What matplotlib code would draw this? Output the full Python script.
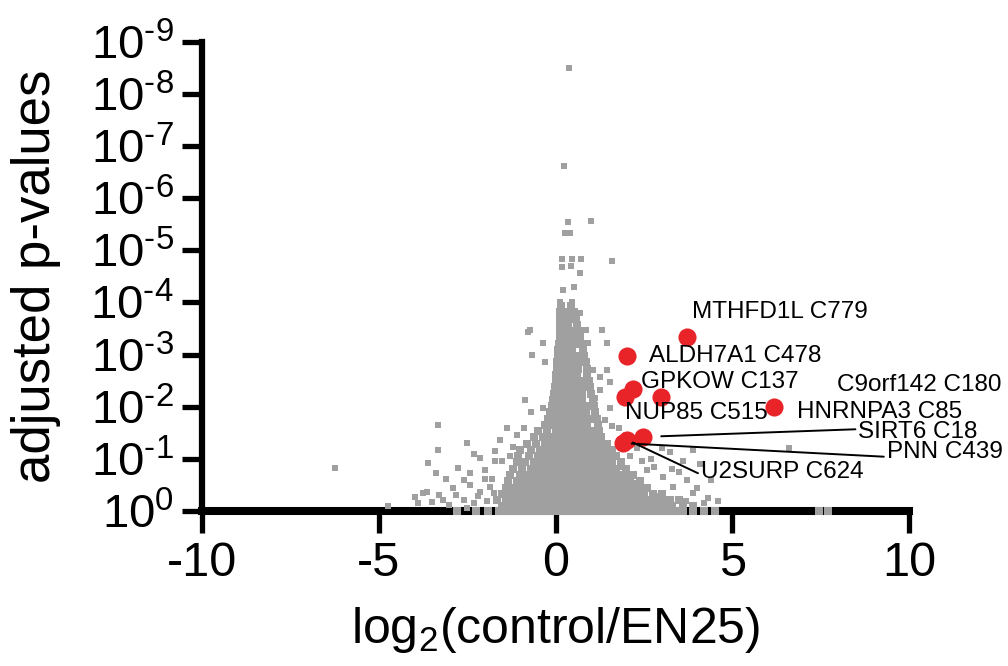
import matplotlib
matplotlib.use("Agg")
import matplotlib.pyplot as plt
import numpy as np

plt.rcParams['font.family'] = ['Liberation Sans', 'DejaVu Sans']
plt.rcParams['mathtext.fontset'] = 'custom'
plt.rcParams['mathtext.rm'] = 'Liberation Sans'
plt.rcParams['mathtext.it'] = 'Liberation Sans:italic'
plt.rcParams['axes.unicode_minus'] = False

# dense core of the volcano: -log10(adjusted p) level -> log2 ratios
core_levels = [0.0, 0.1, 0.21, 0.33, 0.45, 0.57, 0.69, 0.81, 0.93, 1.05, 1.17,
               1.29, 1.41, 1.53, 1.65, 1.77, 1.89, 2.01, 2.13, 2.25, 2.37, 2.49,
               2.61, 2.73, 2.85, 2.97, 3.09, 3.21, 3.33, 3.45, 3.57, 3.69, 3.81, 3.93]
core_x = [
    [-2.8, -2.25, -1.9, -1.6, -1.4, -1.2, -1.0, -0.8, -0.6, -0.4, -0.2, 0.0, 0.2, 0.4,
     0.6, 0.8, 1.0, 1.2, 1.4, 1.6, 1.8, 2.0, 2.2, 2.4, 2.6, 2.8, 3.0, 3.2, 3.4, 3.6,
     3.9, 4.2, 4.5, 7.45, 7.7],
    [-1.5, -1.3, -1.1, -0.9, -0.7, -0.5, -0.3, -0.1, 0.1, 0.3, 0.5, 0.7, 0.9, 1.1, 1.3,
     1.5, 1.7, 1.9, 2.1, 2.3, 2.5, 2.7, 2.9, 3.1, 3.3, 3.6, 3.9],
    [-1.65, -1.4, -1.2, -1.0, -0.8, -0.6, -0.4, -0.2, 0.0, 0.2, 0.4, 0.6, 0.8, 1.0, 1.2,
     1.4, 1.6, 1.8, 2.0, 2.2, 2.4, 2.6, 2.8, 3.0, 3.25, 3.5],
    [-1.5, -1.3, -1.1, -0.9, -0.7, -0.5, -0.3, -0.1, 0.1, 0.3, 0.5, 0.7, 0.9, 1.1, 1.3,
     1.5, 1.7, 1.9, 2.1, 2.3, 2.5, 2.75, 3.0],
    [-1.4, -1.2, -1.0, -0.8, -0.6, -0.4, -0.2, 0.0, 0.2, 0.4, 0.6, 0.8, 1.0, 1.2, 1.4,
     1.6, 1.8, 2.0, 2.2, 2.4, 2.6],
    [-1.35, -1.1, -0.9, -0.7, -0.5, -0.3, -0.1, 0.1, 0.3, 0.5, 0.7, 0.9, 1.1, 1.3, 1.5,
     1.7, 1.9, 2.1, 2.4],
    [-1.3, -1.0, -0.8, -0.6, -0.4, -0.2, 0.0, 0.2, 0.4, 0.6, 0.8, 1.0, 1.2, 1.4, 1.6,
     1.8, 2.0, 2.2],
    [-1.2, -0.95, -0.7, -0.5, -0.3, -0.1, 0.1, 0.3, 0.5, 0.7, 0.9, 1.1, 1.3, 1.5, 1.7, 2.0],
    [-1.1, -0.85, -0.6, -0.4, -0.2, 0.0, 0.2, 0.4, 0.6, 0.8, 1.0, 1.2, 1.4, 1.6, 1.85],
    [-1.05, -0.75, -0.5, -0.3, -0.1, 0.1, 0.3, 0.5, 0.7, 0.9, 1.1, 1.3, 1.5, 1.7],
    [-1.0, -0.7, -0.45, -0.2, 0.0, 0.2, 0.4, 0.6, 0.8, 1.0, 1.2, 1.4, 1.6],
    [-0.8, -0.55, -0.3, -0.1, 0.1, 0.3, 0.5, 0.7, 0.9, 1.1, 1.3, 1.45],
    [-0.6, -0.35, -0.15, 0.05, 0.25, 0.45, 0.65, 0.85, 1.05, 1.3],
    [-0.5, -0.25, 0.0, 0.2, 0.4, 0.6, 0.8, 1.0, 1.23],
    [-0.3, -0.1, 0.1, 0.3, 0.5, 0.7, 0.9, 1.2],
    [-0.2, 0.0, 0.2, 0.4, 0.6, 0.8, 1.0, 1.17],
    [-0.15, 0.05, 0.25, 0.45, 0.65, 0.85, 1.12],
    [-0.1, 0.1, 0.3, 0.5, 0.7, 0.9, 1.08],
    [-0.07, 0.15, 0.35, 0.55, 0.75, 1.05],
    [-0.05, 0.15, 0.35, 0.55, 0.75, 1.0],
    [-0.02, 0.2, 0.4, 0.6, 0.8, 0.98],
    [0.0, 0.2, 0.4, 0.6, 0.8, 0.95],
    [0.02, 0.22, 0.42, 0.62, 0.9],
    [0.04, 0.24, 0.44, 0.64, 0.88],
    [0.05, 0.25, 0.45, 0.65, 0.85],
    [0.06, 0.26, 0.46, 0.66, 0.8],
    [0.07, 0.27, 0.47, 0.78],
    [0.1, 0.3, 0.5, 0.72],
    [0.12, 0.32, 0.52, 0.7],
    [0.13, 0.33, 0.53, 0.66],
    [0.13, 0.35, 0.62],
    [0.14, 0.36, 0.58],
    [0.14, 0.34, 0.52],
    [0.15, 0.45],
]

# scattered grey peptides outside the core
spread_x = [-6.24, -4.74, -3.97, -3.64, -3.49, -3.18, -3.32, -3.32, -3.6, -3.38,
            -2.81, -2.51, -2.42, -2.42, -2.14, -2.14, -1.85, -1.57, -1.38, -1.2,
            -2.76, -3.75, -2.0, -1.7,
            -3.9, -3.3, -3.0, -2.6, -2.3, -2.9, -2.6, -2.2, -1.95, -1.8, -2.0,
            -1.75, -3.1, -2.3, -1.7, -2.5, -0.9, -0.7, -1.1, -1.5, -1.3,
            -0.78, -0.35, -0.66, -0.3, 0.69, 1.31, 0.92, 1.46, 1.06, 1.46, 1.54,
            1.26, -0.86, -0.35, 1.12, 1.54, 1.26, -0.72, 0.86,
            0.38, 0.24, 0.35, 1.0, 0.28, 0.4, 0.18, 0.46, 0.72, 1.6, 0.18, 0.44,
            0.69, 0.21, 0.52, 0.13, 0.47, 0.27, 0.69,
            1.45, 1.82, 1.74, 2.19, 2.59, 3.04, 3.33, 3.72, 3.9, 3.24, 3.9,
            1.4, 1.6, 2.1, 2.45, 2.8, 2.0, 4.3, 6.6, 2.9, 3.5,
            3.7, 4.0, 4.2, 4.6, 3.3, 3.6, 2.7, 2.3, 2.0, 1.8, 4.4, 3.0, 2.6, 4.1]
spread_nlp = [0.82, 0.10, 0.27, 0.36, 0.17, 0.21, 1.65, 1.17, 0.92, 0.73,
              0.31, 1.30, 0.73, 0.50, 1.01, 0.37, 0.46, 1.36, 1.59, 1.23,
              0.82, 0.35, 0.62, 0.95,
              0.15, 0.30, 0.12, 0.22, 0.15, 0.45, 0.60, 0.28, 0.20, 0.62, 0.78,
              0.35, 0.62, 1.10, 1.15, 0.05, 1.60, 1.90, 1.45, 0.95, 1.05,
              3.43, 3.22, 2.99, 2.85, 3.43, 3.47, 3.22, 3.22, 2.70, 2.70, 2.47,
              2.57, 2.13, 1.97, 2.16, 1.97, 2.32, 3.47, 3.47,
              8.49, 6.61, 5.54, 5.56, 5.32, 5.32, 4.83, 4.83, 4.83, 4.79, 4.67, 4.69,
              4.56, 4.23, 4.29, 4.00, 4.00, 3.79, 3.79,
              1.03, 0.84, 0.59, 0.54, 0.79, 0.65, 0.46, 0.59, 0.34, 1.13, 1.17,
              1.75, 1.62, 1.05, 0.95, 0.85, 1.25, 0.25, 1.20, 0.28, 0.75,
              0.20, 0.45, 0.15, 0.20, 0.80, 0.95, 1.00, 1.20, 1.45, 1.60, 0.60, 1.20, 0.42, 0.90]

# highlighted cysteines
hit_names = ["MTHFD1L C779", "ALDH7A1 C478", "GPKOW C137", "NUP85 C515",
             "C9orf142 C180", "HNRNPA3 C85", "SIRT6 C18", "PNN C439", "U2SURP C624"]
hit_x = [3.73, 2.03, 2.18, 1.97, 2.98, 6.18, 2.48, 1.92, 2.01]
hit_nlp = [3.34, 2.98, 2.33, 2.19, 2.19, 1.99, 1.42, 1.30, 1.37]

# label offsets (points), leader line (relpos y, shrink at point)
label_off = [(3.2, 17.9), (15.8, 0), (5.9, 5.6), (0, -12), (126.5, 8.4),
             (16.3, -3.2), (154.8, 3.2), (189.5, -6.5), (53.4, -23.3)]
leader = [None, None, None, None, None, None, (0.65, 13), (0.29, 6), (0.38, 5)]

core_nx = np.concatenate([np.array(xs) for xs in core_x])
core_ny = np.concatenate([np.full(len(xs), lv) for xs, lv in zip(core_x, core_levels)])

fig = plt.figure(figsize=(10.08, 6.66), dpi=100)
ax = fig.add_axes([202 / 1008, 1 - 511 / 666, 707 / 1008, 469.5 / 666])

grey = '#a0a0a0'
ax.scatter(core_nx, 10.0 ** (-core_ny), marker='s', s=36, color=grey, linewidths=0,
           zorder=3, clip_on=False)
ax.scatter(spread_x, 10.0 ** (-np.array(spread_nlp)), marker='s', s=22, color=grey,
           linewidths=0, zorder=3, clip_on=False)
ax.scatter(hit_x, 10.0 ** (-np.array(hit_nlp)), marker='o', s=170, color='#e82428',
           linewidths=0, zorder=4, clip_on=False)

for name, x, y, off, ld in zip(hit_names, hit_x, hit_nlp, label_off, leader):
    kw = {}
    if ld is not None:
        kw['arrowprops'] = dict(arrowstyle='-', color='black', lw=1.4,
                                relpos=(0, ld[0]), shrinkA=0, shrinkB=ld[1])
    ax.annotate(name, xy=(x, 10.0 ** (-y)), xytext=off, textcoords='offset points',
                ha='left', va='center', fontsize=17.5, zorder=5, **kw)

ax.set_yscale('log')
ax.set_xlim(-10, 10)
ax.set_ylim(1, 1e-9)
ax.set_xticks([-10, -5, 0, 5, 10])
ax.set_xticklabels(['-10', '-5', '0', '5', '10'])
yt = [10.0 ** (-k) for k in range(10)]
ax.set_yticks(yt)
ax.set_yticklabels(['$10^{0}$'] + [r'$10^{\text{-%d}}$' % k for k in range(1, 10)])
ax.minorticks_off()

for s in ['top', 'right']:
    ax.spines[s].set_visible(False)
ax.spines['left'].set_linewidth(4.5)
ax.spines['bottom'].set_linewidth(5.8)
ax.tick_params(axis='y', length=14.4, width=3.8, labelsize=34, pad=6)
ax.tick_params(axis='x', length=15.5, width=3.8, labelsize=35, pad=6)

ax.set_xlabel('log$_2$(control/EN25)', fontsize=36)
ax.xaxis.set_label_coords(0.5, -0.2)
ax.set_ylabel('adjusted p-values', fontsize=38)
ax.yaxis.set_label_coords(-0.2, 0.5)

fig.savefig('out.png', dpi=100)
